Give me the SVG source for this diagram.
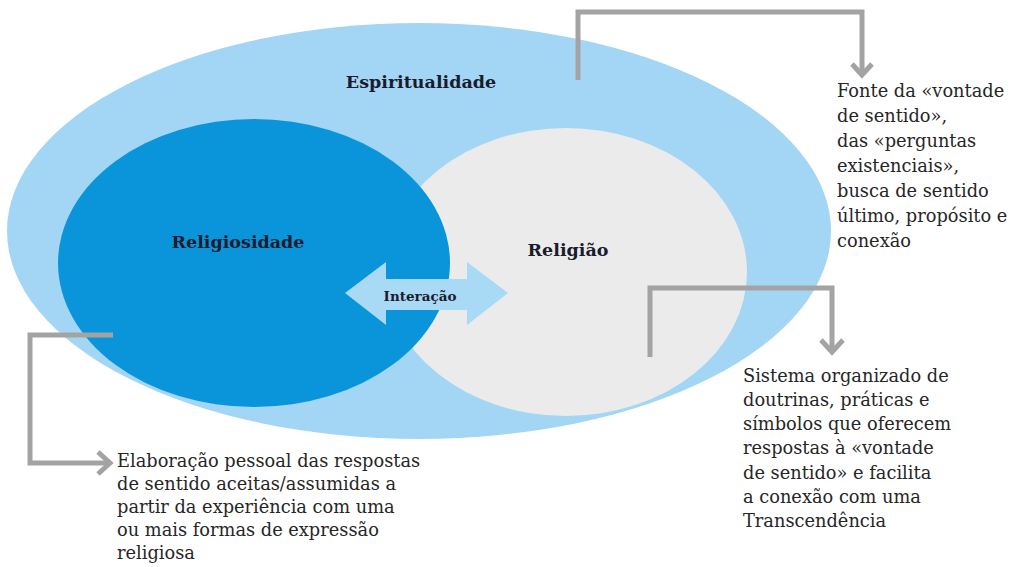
<svg xmlns="http://www.w3.org/2000/svg" width="1014" height="567" viewBox="0 0 1014 567">
<defs>
<style>
.lbl{font-family:"DejaVu Serif","Liberation Serif",serif;font-weight:bold;fill:#1b1b2e;text-anchor:middle}
.txt{font-family:"DejaVu Serif","Liberation Serif",serif;font-size:17.8px;fill:#262626}
.con{fill:none;stroke:#a3a3a3;stroke-width:5}
</style>
</defs>
<rect width="1014" height="567" fill="#ffffff"/>
<g id="espiritualidade">
<ellipse cx="419" cy="231" rx="412" ry="208" fill="#a2d6f4"/>
<text class="lbl" x="421" y="88" font-size="17.5">Espiritualidade</text>
</g>
<g id="religiao">
<ellipse cx="566" cy="272" rx="181" ry="144" fill="#ebebeb"/>
<text class="lbl" x="568" y="256" font-size="17.5">Religião</text>
</g>
<g id="religiosidade">
<ellipse cx="254" cy="263" rx="196" ry="144" fill="#0a95da"/>
<text class="lbl" x="238" y="248" font-size="17.5">Religiosidade</text>
</g>
<g id="interacao">
<polygon points="345,293 386,262 386,279 467,279 467,262 508,293 467,325 467,310 386,310 386,325" fill="#a8d9f5"/>
<text class="lbl" x="420" y="301" font-size="13.5">Interação</text>
</g>
<g id="connectors">
<path class="con" d="M578,80 V12 H862 V72"/>
<path class="con" d="M852,64 L862,75 L872,64"/>
<path class="con" d="M650,357 V288 H832 V350"/>
<path class="con" d="M821,340 L832,352 L843,340"/>
<path class="con" d="M113,335 H30 V463 H108"/>
<path class="con" d="M98,452 L110,463 L98,474"/>
</g>
<g id="nota-espiritualidade">
<text class="txt" x="837" y="97">Fonte da «vontade</text>
<text class="txt" x="837" y="122">de sentido»,</text>
<text class="txt" x="837" y="147">das «perguntas</text>
<text class="txt" x="837" y="172">existenciais»,</text>
<text class="txt" x="837" y="197">busca de sentido</text>
<text class="txt" x="837" y="222">último, propósito e</text>
<text class="txt" x="837" y="247">conexão</text>
</g>
<g id="nota-religiao">
<text class="txt" x="743" y="382">Sistema organizado de</text>
<text class="txt" x="743" y="406">doutrinas, práticas e</text>
<text class="txt" x="743" y="430">símbolos que oferecem</text>
<text class="txt" x="743" y="454">respostas à «vontade</text>
<text class="txt" x="743" y="479">de sentido» e facilita</text>
<text class="txt" x="743" y="503">a conexão com uma</text>
<text class="txt" x="743" y="527">Transcendência</text>
</g>
<g id="nota-religiosidade">
<text class="txt" x="117" y="467">Elaboração pessoal das respostas</text>
<text class="txt" x="117" y="490">de sentido aceitas/assumidas a</text>
<text class="txt" x="117" y="513">partir da experiência com uma</text>
<text class="txt" x="117" y="536">ou mais formas de expressão</text>
<text class="txt" x="117" y="559">religiosa</text>
</g>
</svg>
